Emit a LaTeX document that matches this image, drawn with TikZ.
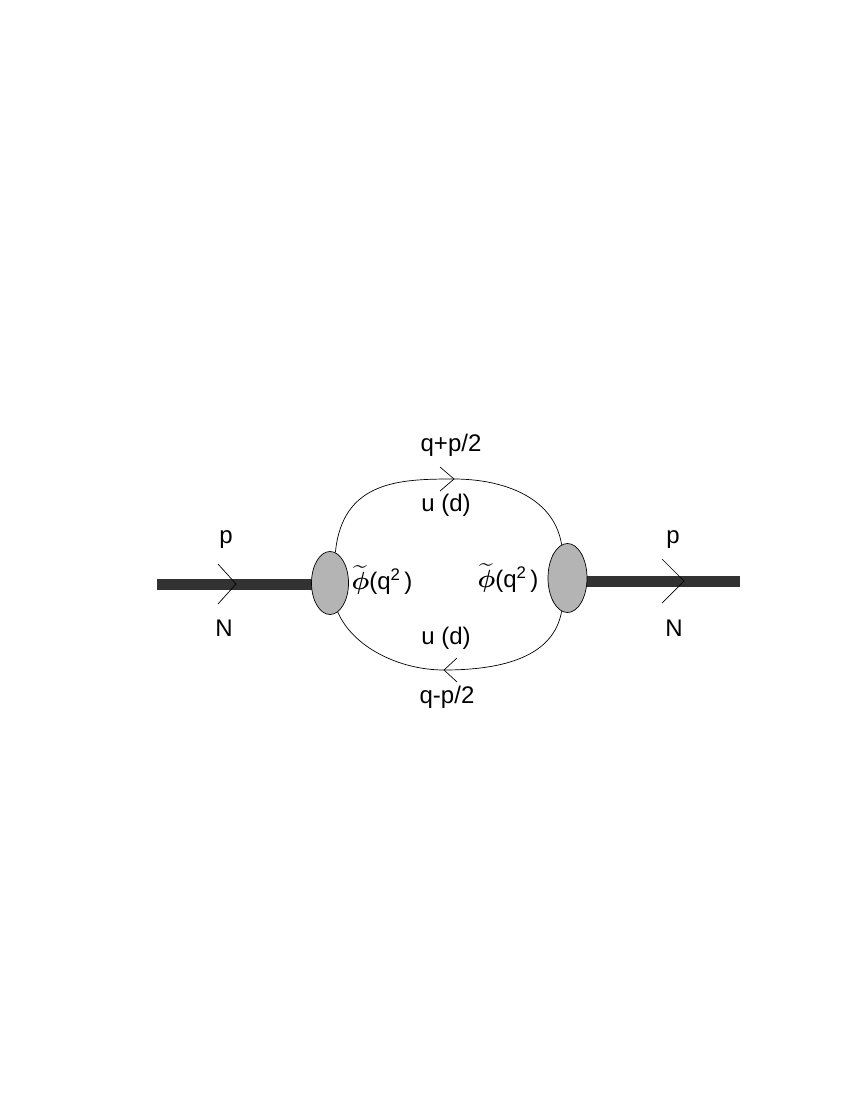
\documentclass[tikz,border=0pt]{standalone}
\usepackage{amsmath}
\usepackage{fontspec}
\setmainfont{Liberation Sans}
\usetikzlibrary{shapes.geometric}
\definecolor{blobgray}{RGB}{180,180,180}
\definecolor{barcol}{RGB}{50,50,50}
\begin{document}
\begin{tikzpicture}[x=1pt,y=-1pt,
  blob/.style={ellipse,draw=black,line width=0.7pt,fill=blobgray,inner sep=0pt},
  bar/.style={draw=barcol,line width=11pt},
  prop/.style={draw=black,line width=0.7pt},
  chev/.style={draw=black,line width=0.7pt},
  lbl/.style={inner sep=0pt,font=\fontsize{24}{28}\selectfont}]
\path[use as bounding box] (0,0) rectangle (850,1100);
% ends of bars
\coordinate (a) at (157,584);
\coordinate (z) at (740,581);
% loop vertices
\coordinate (t) at (454,479);
\coordinate (b) at (444,670);
% bars
\draw[bar] (a) -- (330,584);
\draw[bar] (567,581) -- (z);
% blobs
\node[blob,minimum width=37pt,minimum height=63pt] (L) at (330,583) {};
\node[blob,minimum width=39pt,minimum height=69pt] (R) at (567.5,578) {};
% quark loop
\draw[prop] (L.80) .. controls +(7,-72) and +(-54,0) .. (t)
            .. controls +(45,0) and +(-8,-50) .. (R.100);
\draw[prop] (L.-75) .. controls +(15,35) and +(-45,0) .. (b)
            .. controls +(60,0) and +(-8,45) .. (R.-100);
% chevrons
\coordinate (cl) at (236,584);
\coordinate (cr) at (684,581);
\draw[chev] (cl) ++(-18,-20) -- (cl) -- ++(-18,20);
\draw[chev] (cr) ++(-22,-22) -- (cr) -- ++(-22,22);
\draw[chev] (t) ++(-14,-12) -- (t) -- ++(-14,12);
\draw[chev] (b) ++(13,-12) -- (b) -- ++(13,12);
% labels
\node[lbl] (pl) at (226,540) {p};
\node[lbl] (nl) at (224,628) {N};
\node[lbl] (pr) at (673,540) {p};
\node[lbl] (nr) at (674,628) {N};
\node[lbl] (qt) at (451,445) {q+p/2};
\node[lbl] (ut) at (446,505) {u (d)};
\node[lbl] (ub) at (446,638) {u (d)};
\node[lbl] (qb) at (447,697) {q-p/2};
\node[lbl] (fl) at (382,580) {$\widetilde{\boldsymbol{\phi}}$(q\textsuperscript{2}\,)};
\node[lbl] (fr) at (508,578) {$\widetilde{\boldsymbol{\phi}}$(q\textsuperscript{2}\,)};
\end{tikzpicture}
\end{document}
